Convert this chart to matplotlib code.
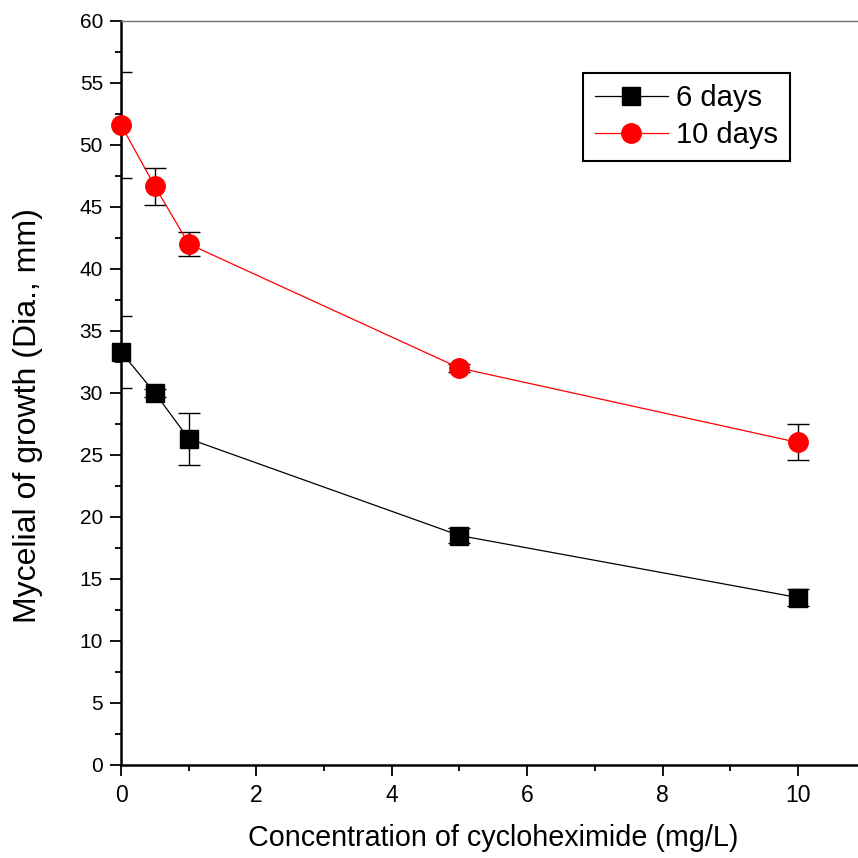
import numpy as np
import matplotlib.pyplot as plt
from matplotlib.ticker import MultipleLocator

plt.rcParams['font.family'] = ['Liberation Sans', 'DejaVu Sans']

conc = [0, 0.5, 1, 5, 10]
days6 = [33.3, 30.0, 26.3, 18.5, 13.5]
days6_err = [2.9, 0.3, 2.1, 0.6, 0.7]
days10 = [51.6, 46.65, 42.0, 32.0, 26.0]
days10_err = [4.3, 1.5, 1.0, 0.3, 1.45]

fig = plt.figure(figsize=(8.58, 8.58), dpi=100)
ax = fig.add_axes([121 / 858, 93 / 858, 11 * 67.7 / 858, 744.3 / 858])

# error bars first, clipped at the axes like the original
for y, e in [(days6, days6_err), (days10, days10_err)]:
    ax.errorbar(conc, y, yerr=e, fmt='none', ecolor='black', elinewidth=1.0,
                capsize=8, capthick=1.0, zorder=2)

ax.plot(conc, days6, color='black', lw=0.9, marker='s', ms=12.3,
        label='6 days', clip_on=False, zorder=3)
ax.plot(conc, days10, color='red', lw=0.9, marker='o', ms=14,
        label='10 days', clip_on=False, zorder=3)

ax.set_xlim(0, 11)
ax.set_ylim(0, 60)
ax.xaxis.set_major_locator(MultipleLocator(2))
ax.xaxis.set_minor_locator(MultipleLocator(1))
ax.yaxis.set_major_locator(MultipleLocator(5))
ax.yaxis.set_minor_locator(MultipleLocator(2.5))
ax.tick_params(which='major', direction='out', length=8, width=1.3)
ax.tick_params(which='minor', direction='out', length=4, width=1.3)
ax.tick_params(axis='x', which='major', labelsize=16.5, pad=6)
ax.tick_params(axis='y', which='major', labelsize=15, pad=5)

ax.spines['left'].set_linewidth(1.8)
ax.spines['bottom'].set_linewidth(1.8)
ax.spines['top'].set_color('#707070')
ax.spines['top'].set_linewidth(1.0)
ax.spines['right'].set_visible(False)

ax.set_xlabel('Concentration of cycloheximide (mg/L)', fontsize=20.7, labelpad=12)
ax.set_ylabel('Mycelial of growth (Dia., mm)', fontsize=23)
ax.yaxis.set_label_coords(-0.105, 0.47)

leg = ax.legend(loc='upper right', bbox_to_anchor=(790 / 858, 1 - 72.7 / 858),
                bbox_transform=fig.transFigure, fontsize=21, fancybox=False,
                edgecolor='black', framealpha=1, handlelength=2.5,
                borderpad=0.4, labelspacing=0.3, handletextpad=0.3,
                borderaxespad=0)
leg.get_frame().set_linewidth(1.5)

fig.savefig('out.png', dpi=100)
